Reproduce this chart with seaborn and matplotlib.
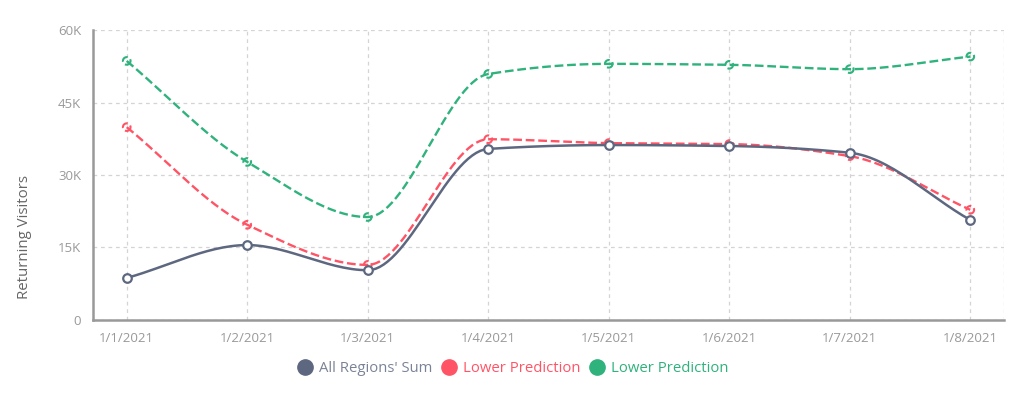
import numpy as np
import pandas as pd
import matplotlib
matplotlib.use('Agg')
import matplotlib.pyplot as plt
import seaborn as sns
from matplotlib.lines import Line2D

# data
dates = ['1/1/2021', '1/2/2021', '1/3/2021', '1/4/2021', '1/5/2021', '1/6/2021', '1/7/2021', '1/8/2021']
all_regions = [8700, 15500, 10300, 35400, 36200, 36000, 34600, 20700]
lower_red = [39900, 19700, 11400, 37400, 36600, 36400, 33900, 22800]
lower_green = [53600, 32700, 21300, 50900, 53000, 52800, 51900, 54500]

labels = ["All Regions' Sum", 'Lower Prediction', 'Lower Prediction']
colors = ['#5d6880', '#ff5466', '#2fb27c']
styles = ['-', '--', '--']


def monotone(x, y, n=30):
    # monotone cubic (Fritsch-Carlson) only for drawing the smooth curve
    x = np.asarray(x, float); y = np.asarray(y, float)
    h = np.diff(x); d = np.diff(y) / h
    m = np.zeros_like(y)
    m[0] = d[0]; m[-1] = d[-1]
    for i in range(1, len(y) - 1):
        if d[i - 1] * d[i] <= 0:
            m[i] = 0
        else:
            m[i] = 2 / (1 / d[i - 1] + 1 / d[i])
    xs, ys = [], []
    for i in range(len(x) - 1):
        t = np.linspace(0, 1, n, endpoint=False)
        h00 = 2 * t**3 - 3 * t**2 + 1; h10 = t**3 - 2 * t**2 + t
        h01 = -2 * t**3 + 3 * t**2; h11 = t**3 - t**2
        xs.append(x[i] + t * h[i])
        ys.append(h00 * y[i] + h10 * h[i] * m[i] + h01 * y[i + 1] + h11 * h[i] * m[i + 1])
    xs.append([x[-1]]); ys.append([y[-1]])
    return np.concatenate(xs), np.concatenate(ys)


sns.set_theme(style='white')
plt.rcParams['font.family'] = ['Open Sans', 'DejaVu Sans']

fig = plt.figure(figsize=(10.24, 3.98), dpi=100)
ax = fig.add_axes([0.0908, 0.196, 0.8897, 0.7286])

xpos = np.arange(len(dates))
series = [all_regions, lower_red, lower_green]
for vals, c, ls in zip(series[::-1], colors[::-1], styles[::-1]):
    sx, sy = monotone(xpos, vals)
    sns.lineplot(x=sx, y=sy, ax=ax, color=c, lw=1.8 if ls == '-' else 1.7,
                 linestyle=ls, sort=False, estimator=None)
    if ls == '-':
        sns.scatterplot(x=xpos, y=vals, ax=ax, s=38, marker='o', facecolor='white',
                        edgecolor=c, linewidth=1.6, zorder=5)
    else:
        sns.scatterplot(x=xpos, y=vals, ax=ax, s=30, marker='o', facecolor='none',
                        edgecolor=c, linewidth=1.5, linestyle='--', zorder=4)

ax.set_xlim(-0.28, 7.28)
ax.set_ylim(0, 60000)
ax.set_xticks(xpos)
ax.set_xticklabels(dates)
ax.set_yticks([0, 15000, 30000, 45000, 60000])
ax.set_yticklabels(['0', '15K', '30K', '45K', '60K'])
ax.tick_params(axis='both', colors='#999999', labelsize=9.5, length=5, width=1, direction='out')
ax.tick_params(axis='x', pad=4)
ax.grid(True, color='#d4d4d4', linestyle=(0, (3, 3)), lw=0.9)
for s in ['top', 'right']:
    ax.spines[s].set_visible(False)
for s in ['left', 'bottom']:
    ax.spines[s].set_color('#999999')
    ax.spines[s].set_linewidth(1.8)
ax.set_ylabel('Returning Visitors', color='#666666', fontsize=10.8)
ax.yaxis.set_label_coords(-0.067, 0.286)
# faint right border line as in the reference grid
ax.axvline(7.28, color='#d4d4d4', linestyle=(0, (3, 3)), lw=0.9)

handles = [Line2D([], [], marker='o', ls='', markersize=11, color=c) for c in colors]
leg = ax.legend(handles, labels, loc='upper center', bbox_to_anchor=(0.461, -0.095), ncol=3,
                frameon=False, fontsize=10.7, handlelength=1.0, handletextpad=0.45,
                columnspacing=0.6)
for t, c in zip(leg.get_texts(), colors):
    t.set_color(c)
leg.get_texts()[0].set_color('#7a8396')

fig.savefig('out.png', dpi=100)
